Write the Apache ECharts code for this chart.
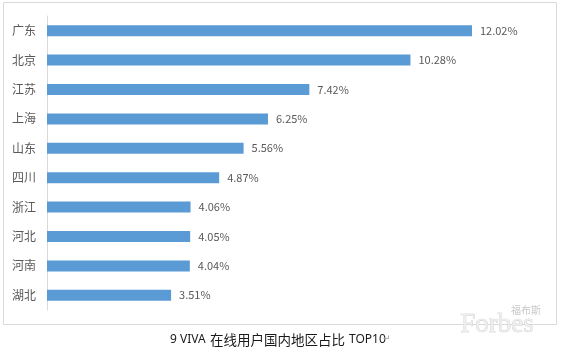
<!DOCTYPE html>
<html>
<head>
<meta charset="utf-8">
<script src="https://cdn.jsdelivr.net/npm/echarts@6/dist/echarts.min.js"></script>
<style>
  html, body { margin: 0; padding: 0; background: #fff; }
  #main { width: 562px; height: 352px; }
</style>
</head>
<body>
<div id="main"></div>
<script>
// 地区与占比数据
var regions = ['广东', '北京', '江苏', '上海', '山东', '四川', '浙江', '河北', '河南', '湖北'];
var shares = [12.02, 10.28, 7.42, 6.25, 5.56, 4.87, 4.06, 4.05, 4.04, 3.51];
var captionHead = '9 VIVA';
var captionMid = '在线用户国内地区占比';
var captionTail = 'TOP10';

var myChart = echarts.init(document.getElementById('main'));

var option = {
  backgroundColor: '#fff',
  animation: false,
  textStyle: { fontFamily: '"Noto Sans CJK SC", "Noto Sans", sans-serif' },
  grid: { left: 47, right: 20, top: 16, bottom: 42 },
  xAxis: {
    type: 'value',
    min: 0,
    max: 14,
    show: false
  },
  yAxis: {
    type: 'category',
    inverse: true,
    data: regions,
    axisLine: { lineStyle: { color: '#d9d9d9', width: 1 } },
    axisTick: { show: false },
    axisLabel: { color: '#595959', fontSize: 12, margin: 11 }
  },
  series: [
    {
      type: 'bar',
      data: shares,
      barWidth: 11,
      itemStyle: { color: '#5b9bd5' },
      label: {
        show: true,
        position: 'right',
        distance: 8,
        color: '#595959',
        fontSize: 11,
        formatter: function (p) { return p.value.toFixed(2) + '%'; }
      }
    }
  ],
  graphic: [
    {
      type: 'rect',
      shape: { x: 3.5, y: 2.5, width: 553, height: 322 },
      style: { fill: 'none', stroke: '#d9d9d9', lineWidth: 1 },
      z: -1
    },
    // 图注
    {
      type: 'text',
      left: 170,
      top: 334,
      style: { text: captionHead, fill: '#1a1a1a', font: '12px "Noto Sans", sans-serif' }
    },
    {
      type: 'text',
      left: 210,
      top: 333,
      style: { text: captionMid, fill: '#1a1a1a', font: '13.5px "Noto Sans CJK SC", sans-serif' }
    },
    {
      type: 'text',
      left: 349,
      top: 334,
      style: { text: captionTail, fill: '#1a1a1a', font: '12px "Noto Sans", sans-serif' }
    },
    {
      type: 'text',
      left: 383,
      top: 334,
      style: { text: '↵', fill: '#999', font: '9px "DejaVu Sans", sans-serif' }
    },
    // 水印
    {
      type: 'text',
      left: 511,
      top: 305,
      style: { text: '福布斯', fill: '#c8c8c8', font: '10px "Noto Sans CJK SC", sans-serif' }
    },
    {
      type: 'text',
      left: 460,
      top: 311,
      style: { text: 'Forbes', fill: '#eeeeee', stroke: '#c4c4c4', lineWidth: 0.6, font: '27px "Liberation Serif", serif' }
    }
  ]
};

myChart.setOption(option);
</script>
</body>
</html>
